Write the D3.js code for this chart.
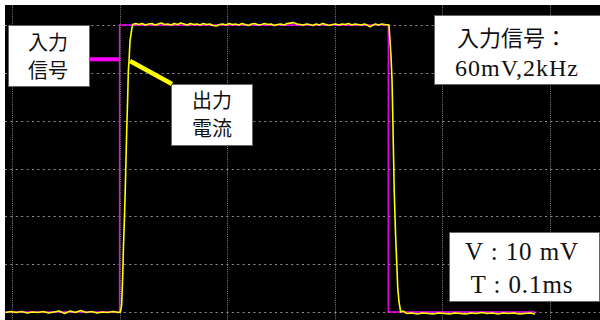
<!DOCTYPE html>
<html>
<head>
<meta charset="utf-8">
<script src="https://cdn.jsdelivr.net/npm/d3@7/dist/d3.min.js"></script>
<style>
  html, body { margin: 0; padding: 0; background: #fff; }
  svg { display: block; }
</style>
</head>
<body>
<svg id="scope" width="600" height="320"></svg>
<script>
// Grid divisions: 0.1 ms per horizontal division, 10 mV per vertical division
const gridTimes = [-0.1, 0, 0.1, 0.2, 0.3, 0.4];
const gridVolts = [0, 10, 20, 30, 40, 50, 60];

// Input signal (magenta): 60 mV, 2 kHz square wave  [time ms, mV]
const inputSignal = [
  [-0.1065, 0], [0, 0], [0, 60], [0.25, 60], [0.25, 0], [0.3865, 0]
];

const outputBefore = [
  [-0.106, -0.1], [-0.101, 0.1], [-0.096, -0.1], [-0.091, 0.1], [-0.086, -0.2],
  [-0.081, 0.0], [-0.076, -0.1], [-0.071, 0.1], [-0.066, -0.2], [-0.061, 0.0],
  [-0.056, 0.2], [-0.051, -0.3], [-0.046, 0.2], [-0.041, -0.1], [-0.036, 0.3],
  [-0.031, -0.1], [-0.026, 0.1], [-0.021, -0.2], [-0.016, 0.0], [-0.011, -0.1],
  [-0.006, 0.1], [-0.001, -0.1], [0.0009, 0.0]
];
const outputRise = [
  [0.0020, 1.5], [0.0030, 7.7], [0.0037, 13.8], [0.0047, 20.3], [0.0056, 27.6],
  [0.0067, 38.0], [0.0076, 44.7], [0.0082, 50.2], [0.0088, 52.3], [0.0098, 56.7],
  [0.0113, 59.0]
];
const outputHigh = [
  [0.0123, 60.1], [0.015, 60.3], [0.018, 60.1], [0.021, 60.3], [0.024, 60.0],
  [0.027, 60.2], [0.030, 60.3], [0.033, 60.0], [0.036, 60.2], [0.039, 60.4],
  [0.042, 60.1], [0.045, 60.2], [0.048, 60.0], [0.051, 60.3], [0.054, 60.1],
  [0.057, 60.4], [0.060, 60.2], [0.063, 60.0], [0.066, 60.3], [0.069, 60.1],
  [0.072, 60.2], [0.075, 60.0], [0.078, 60.3], [0.081, 60.1], [0.084, 60.2],
  [0.087, 59.9], [0.090, 59.8], [0.093, 60.1], [0.096, 60.2], [0.099, 60.0],
  [0.102, 60.3], [0.105, 60.1], [0.108, 60.2], [0.111, 60.0], [0.114, 60.3],
  [0.117, 60.1], [0.120, 59.9], [0.123, 60.2], [0.126, 60.3], [0.129, 60.0],
  [0.132, 60.1], [0.135, 60.3], [0.138, 60.1], [0.141, 60.2], [0.144, 59.9],
  [0.147, 60.1], [0.150, 60.2], [0.153, 60.0], [0.156, 60.3], [0.159, 60.4],
  [0.162, 60.5], [0.165, 60.2], [0.168, 60.1], [0.171, 60.0], [0.174, 60.2],
  [0.177, 60.1], [0.180, 59.9], [0.183, 60.2], [0.186, 60.0], [0.189, 60.3],
  [0.192, 60.1], [0.195, 59.9], [0.198, 60.1], [0.201, 60.2], [0.204, 60.0],
  [0.207, 60.2], [0.210, 60.1], [0.213, 60.3], [0.216, 60.0], [0.219, 60.2],
  [0.222, 60.1], [0.225, 60.0], [0.228, 60.2], [0.231, 59.9], [0.233, 59.6],
  [0.235, 59.9], [0.238, 60.2], [0.241, 60.0], [0.244, 60.2], [0.247, 60.1],
  [0.2507, 60.0]
];
const outputFall = [
  [0.2526, 53.3], [0.2535, 48.5], [0.2541, 42.2], [0.2556, 24.9], [0.2569, 15.7],
  [0.2579, 10.2], [0.2588, 5.2], [0.2600, 2.1]
];
const outputAfter = [
  [0.2616, 0.0], [0.264, 0.2], [0.267, -0.3], [0.272, -0.2], [0.277, -0.4],
  [0.282, -0.2], [0.287, -0.3], [0.292, -0.4], [0.297, -0.2], [0.302, -0.3],
  [0.307, -0.4], [0.312, -0.2], [0.317, -0.3], [0.322, -0.4], [0.327, -0.2],
  [0.332, -0.3], [0.337, -0.1], [0.342, -0.3], [0.347, -0.2], [0.352, -0.4],
  [0.357, -0.2], [0.362, -0.3], [0.367, -0.2], [0.372, -0.4], [0.377, -0.3],
  [0.382, -0.2], [0.3865, -0.4]
];

// Annotation texts
const inputLabel = ["入力", "信号"];
const outputLabel = ["出力", "電流"];
const signalInfo = ["入力信号：", "60mV,2kHz"];
const scaleInfo = ["V : 10 mV", "T : 0.1ms"];

const svg = d3.select("#scope");
const W = 600, H = 320;
const screen = { left: 5, top: 5, right: 600, bottom: 320 };

const x = d3.scaleLinear().domain([0, 0.4]).range([119.5, 549.5]);
const y = d3.scaleLinear().domain([0, 60]).range([312, 25]);

// white frame + black screen
svg.append("rect").attr("width", W).attr("height", H).attr("fill", "#fff");
svg.append("rect")
  .attr("x", screen.left).attr("y", screen.top)
  .attr("width", screen.right - screen.left).attr("height", screen.bottom - screen.top)
  .attr("fill", "#000");

// dotted graticule
const grid = svg.append("g");
grid.selectAll("line.v").data(gridTimes).join("line")
  .attr("class", "v")
  .attr("x1", d => Math.round(x(d)) + 0.5).attr("x2", d => Math.round(x(d)) + 0.5)
  .attr("y1", screen.top).attr("y2", screen.bottom)
  .attr("stroke", "#808080").attr("stroke-width", 1)
  .attr("stroke-dasharray", "1,1.2");
grid.selectAll("line.h").data(gridVolts).join("line")
  .attr("class", "h")
  .attr("x1", screen.left).attr("x2", screen.right)
  .attr("y1", d => Math.round(y(d)) + 0.5).attr("y2", d => Math.round(y(d)) + 0.5)
  .attr("stroke", "#909090").attr("stroke-width", 1)
  .attr("stroke-dasharray", "2,3.4");

const line = d3.line().x(d => x(d[0])).y(d => y(d[1]));

// input signal
svg.append("path")
  .datum(inputSignal)
  .attr("d", line)
  .attr("fill", "none")
  .attr("stroke", "#ff00ff")
  .attr("stroke-width", 1.3);

// output current
const outputTrace = [].concat(outputBefore, outputRise, outputHigh, outputFall, outputAfter);
svg.append("path")
  .datum(outputTrace)
  .attr("d", line)
  .attr("fill", "none")
  .attr("stroke", "#ffff00")
  .attr("stroke-width", 1.6)
  .attr("stroke-linejoin", "round");

// pointers from labels to traces
svg.append("line")
  .attr("x1", 90).attr("x2", x(0) - 0.5)
  .attr("y1", 59.3).attr("y2", 59.3)
  .attr("stroke", "#ff00ff").attr("stroke-width", 4);
svg.append("line")
  .attr("x1", 130).attr("y1", 61)
  .attr("x2", 172).attr("y2", 84)
  .attr("stroke", "#ffff00").attr("stroke-width", 4.5);

// label boxes
function box(x0, y0, w, h) {
  svg.append("rect")
    .attr("x", x0).attr("y", y0).attr("width", w).attr("height", h)
    .attr("fill", "#fff").attr("stroke", "#666").attr("stroke-width", 1);
}
const cjk = "'Noto Sans CJK JP', 'Noto Sans CJK SC', sans-serif";
const serif = "'Liberation Serif', 'Times New Roman', serif";

function textLines(lines, cx, baselines, size, family, spacing) {
  lines.forEach((t, i) => {
    svg.append("text")
      .attr("x", cx).attr("y", baselines[i])
      .attr("text-anchor", "middle")
      .attr("font-family", family)
      .attr("font-size", size)
      .attr("letter-spacing", spacing || 0)
      .attr("fill", "#111")
      .text(t);
  });
}

box(8.5, 25.5, 81, 61);
textLines(inputLabel, 48, [50, 78], 20, cjk);

box(171.5, 84.5, 81, 61);
textLines(outputLabel, 212, [108, 136], 20, cjk);

box(434.5, 15.5, 170, 69);
svg.append("text")
  .attr("x", 457).attr("y", 46)
  .attr("font-family", cjk).attr("font-size", 22).attr("fill", "#111")
  .text(signalInfo[0]);
textLines([signalInfo[1]], 517, [76], 24, serif, 1);

box(449.5, 232.5, 150, 69);
textLines(scaleInfo, 522, [260, 292.5], 25, serif, 0.9);
</script>
</body>
</html>
